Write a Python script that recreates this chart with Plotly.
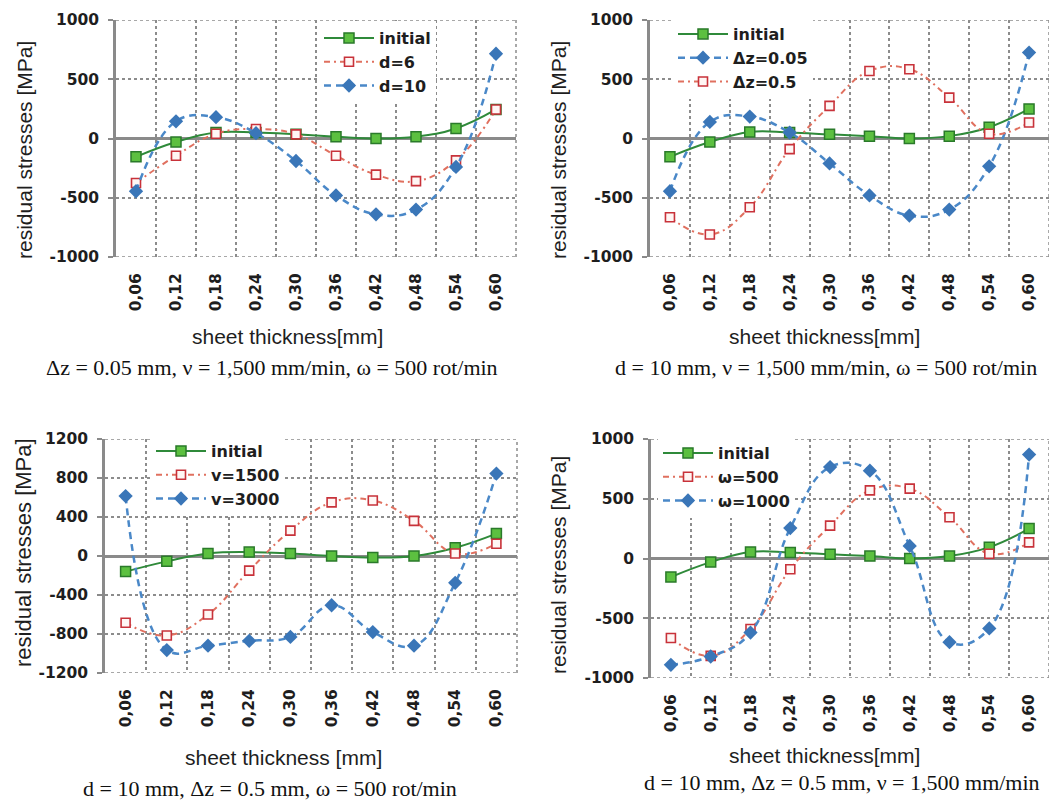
import plotly.graph_objects as go

# ---------------- data ----------------
categories = ["0,06", "0,12", "0,18", "0,24", "0,30", "0,36", "0,42", "0,48", "0,54", "0,60"]

# panel 1: dz = 0.05 mm, v = 1500, w = 500
p1_initial = [-155, -30, 50, 50, 35, 15, 0, 15, 85, 245]
p1_d6 = [-375, -145, 40, 80, 35, -145, -305, -360, -185, 245]
p1_d10 = [-445, 145, 180, 45, -190, -480, -640, -600, -240, 715]

# panel 2: d = 10 mm, v = 1500, w = 500
p2_initial = [-155, -30, 55, 50, 35, 20, 0, 20, 95, 250]
p2_dz005 = [-445, 140, 185, 50, -210, -480, -650, -600, -235, 725]
p2_dz05 = [-665, -810, -580, -90, 275, 570, 585, 345, 40, 135]

# panel 3: d = 10 mm, dz = 0.5 mm, w = 500
p3_initial = [-160, -55, 25, 40, 25, 0, -15, 0, 85, 230]
p3_v1500 = [-685, -815, -600, -150, 260, 550, 570, 360, 25, 125]
p3_v3000 = [615, -965, -920, -870, -830, -505, -780, -920, -275, 845]

# panel 4: d = 10 mm, dz = 0.5 mm, v = 1500
p4_initial = [-155, -30, 55, 50, 35, 20, 0, 20, 95, 250]
p4_w500 = [-665, -815, -590, -90, 275, 570, 585, 345, 40, 135]
p4_w1000 = [-890, -820, -620, 255, 765, 735, 105, -700, -585, 870]

yticks_a = [-1000, -500, 0, 500, 1000]
yticklabels_a = ["-1000", "-500", "0", "500", "1000"]
yticks_b = [-1200, -800, -400, 0, 400, 800, 1200]
yticklabels_b = ["-1200", "-800", "-400", "0", "400", "800", "1200"]
yrange_a = [-1000, 1000]
yrange_b = [-1200, 1200]

y_title = "residual stresses [MPa]"
x_title = "sheet thickness[mm]"
x_title_3 = "sheet thickness [mm]"
captions = [
    "Δz = 0.05 mm, ν = 1,500 mm/min, ω = 500 rot/min",
    "d = 10 mm, ν = 1,500 mm/min, ω = 500 rot/min",
    "d = 10 mm, Δz = 0.5 mm, ω = 500 rot/min",
    "d = 10 mm, Δz = 0.5 mm, ν = 1,500 mm/min",
]

# ---------------- styles ----------------
W, H = 1049, 801
GREEN_LINE = "#2f8a3a"
GREEN_FILL = "#5cc040"
GREEN_EDGE = "#2a7a2a"
RED_LINE = "#e0705f"
RED_EDGE = "#c8323a"
BLUE_LINE = "#4a88c8"
BLUE_FILL = "#3a76b8"
GRID = "#8c8c8c"
AXIS = "#8a8a8a"
TXT = "#1e1e1e"
SMOOTH = 1.2


def px(x):
    return x / W


def py(y):
    return 1 - y / H


def initial_trace(y, ax, leg):
    return go.Scatter(
        x=categories, y=y, name="initial", mode="lines+markers",
        xaxis="x" + ax, yaxis="y" + ax, legend=leg,
        line=dict(color=GREEN_LINE, width=2, shape="spline", smoothing=SMOOTH),
        marker=dict(symbol="square", size=10, color=GREEN_FILL,
                    line=dict(color=GREEN_EDGE, width=1.5)),
    )


def red_trace(y, name, ax, leg):
    return go.Scatter(
        x=categories, y=y, name=name, mode="lines+markers",
        xaxis="x" + ax, yaxis="y" + ax, legend=leg,
        line=dict(color=RED_LINE, width=2, shape="spline", smoothing=SMOOTH,
                  dash="6px,4px,2px,4px"),
        marker=dict(symbol="square", size=9, color="#fff6f4",
                    line=dict(color=RED_EDGE, width=1.6)),
    )


def blue_trace(y, name, ax, leg):
    return go.Scatter(
        x=categories, y=y, name=name, mode="lines+markers",
        xaxis="x" + ax, yaxis="y" + ax, legend=leg,
        line=dict(color=BLUE_LINE, width=2.5, shape="spline", smoothing=SMOOTH,
                  dash="7px,5px"),
        marker=dict(symbol="diamond", size=11, color=BLUE_FILL,
                    line=dict(width=0)),
    )


fig = go.Figure()
# panel 1
fig.add_trace(initial_trace(p1_initial, "", "legend"))
fig.add_trace(red_trace(p1_d6, "d=6", "", "legend"))
fig.add_trace(blue_trace(p1_d10, "d=10", "", "legend"))
# panel 2
fig.add_trace(initial_trace(p2_initial, "2", "legend2"))
fig.add_trace(blue_trace(p2_dz005, "Δz=0.05", "2", "legend2"))
fig.add_trace(red_trace(p2_dz05, "Δz=0.5", "2", "legend2"))
# panel 3
fig.add_trace(initial_trace(p3_initial, "3", "legend3"))
fig.add_trace(red_trace(p3_v1500, "v=1500", "3", "legend3"))
fig.add_trace(blue_trace(p3_v3000, "v=3000", "3", "legend3"))
# panel 4
fig.add_trace(initial_trace(p4_initial, "4", "legend4"))
fig.add_trace(red_trace(p4_w500, "ω=500", "4", "legend4"))
fig.add_trace(blue_trace(p4_w1000, "ω=1000", "4", "legend4"))

tick_font = dict(family="DejaVu Sans", size=15.5, color=TXT, weight="bold")


def xaxis(domain, anchor):
    return dict(
        domain=domain, anchor=anchor, type="category", automargin=False,
        tickson="boundaries", ticks="", showgrid=True, griddash="dot",
        gridcolor=GRID, gridwidth=1.5, showline=False, zeroline=False,
        tickangle=-90, tickfont=tick_font, ticklabelstandoff=12,
        range=[-0.5, 9.5], fixedrange=True,
    )


def yaxis(domain, anchor, rng, tv, tt):
    return dict(
        domain=domain, anchor=anchor, range=rng, tickvals=tv, ticktext=tt,
        automargin=False,
        showgrid=True, griddash="dot", gridcolor=GRID, gridwidth=1.5,
        showline=True, linecolor=AXIS, linewidth=2.5, ticks="outside",
        ticklen=5, tickwidth=2, tickcolor=AXIS,
        zeroline=True, zerolinecolor=AXIS, zerolinewidth=2.5,
        tickfont=tick_font, ticklabelstandoff=6, fixedrange=True,
    )


P = {
    1: dict(l=116, r=516, t=20, b=257),
    2: dict(l=650, r=1049, t=20, b=257),
    3: dict(l=105, r=517, t=439, b=673),
    4: dict(l=651, r=1049, t=439, b=678),
}


def dx(p):
    return [px(P[p]["l"]), min(1.0, px(P[p]["r"]))]


def dy(p):
    return [py(P[p]["b"]), py(P[p]["t"])]


legend_font = dict(family="DejaVu Sans", size=16, color=TXT, weight="bold")


def legend(x, y):
    return dict(
        x=px(x), y=py(y), xanchor="left", yanchor="top", bgcolor="white",
        borderwidth=0, font=legend_font, itemwidth=50, tracegroupgap=0,
        itemclick=False, itemdoubleclick=False,
    )


# dotted frame lines at the plot-area edges (like the Excel gridlines)
shapes = []
edge_line = dict(color=GRID, width=1.5, dash="dot")
for ax, rng in [("", yrange_a), ("2", yrange_a), ("3", yrange_b), ("4", yrange_a)]:
    for yv in rng:
        shapes.append(dict(type="line", xref="x" + ax + " domain", yref="y" + ax,
                           x0=0, x1=1, y0=yv, y1=yv, line=edge_line, layer="below"))
    shapes.append(dict(type="line", xref="x" + ax + " domain", yref="y" + ax + " domain",
                       x0=1, x1=1, y0=0, y1=1, line=edge_line, layer="below"))

annotations = []
title_font = dict(family="Liberation Sans", size=21, color=TXT)
cap_font = dict(family="Liberation Serif", size=22, color="#111111")
ytitle_pos = [(24, 150), (558, 150), (23, 553), (558, 565)]
xtitle_pos = [(287, 337), (824, 337), (283, 757), (824, 755)]
cap_pos = [(272, 367), (826, 367), (270, 788), (842, 782)]
for i in range(4):
    annotations.append(dict(text=y_title, x=px(ytitle_pos[i][0]), y=py(ytitle_pos[i][1]),
                            xref="paper", yref="paper", showarrow=False, textangle=-90,
                            xanchor="center", yanchor="middle",
                            font=dict(title_font, size=22 if i == 2 else 21)))
    annotations.append(dict(text=x_title_3 if i == 2 else x_title,
                            x=px(xtitle_pos[i][0]), y=py(xtitle_pos[i][1]),
                            xref="paper", yref="paper", showarrow=False,
                            xanchor="center", yanchor="middle", font=title_font))
    annotations.append(dict(text=captions[i], x=px(cap_pos[i][0]), y=py(cap_pos[i][1]),
                            xref="paper", yref="paper", showarrow=False,
                            xanchor="center", yanchor="middle", font=cap_font))

fig.update_layout(
    width=W, height=H, margin=dict(l=0, r=0, t=0, b=0, autoexpand=False),
    paper_bgcolor="white", plot_bgcolor="white",
    xaxis=xaxis(dx(1), "y"), yaxis=yaxis(dy(1), "x", yrange_a, yticks_a, yticklabels_a),
    xaxis2=xaxis(dx(2), "y2"), yaxis2=yaxis(dy(2), "x2", yrange_a, yticks_a, yticklabels_a),
    xaxis3=xaxis(dx(3), "y3"), yaxis3=yaxis(dy(3), "x3", yrange_b, yticks_b, yticklabels_b),
    xaxis4=xaxis(dx(4), "y4"), yaxis4=yaxis(dy(4), "x4", yrange_a, yticks_a, yticklabels_a),
    legend=legend(319, 21), legend2=legend(673, 17),
    legend3=legend(151, 434), legend4=legend(658, 436),
    shapes=shapes, annotations=annotations, showlegend=True,
)

fig.write_html(
    "out.html",
    config={"displayModeBar": False},
    post_script="document.body.style.margin='0';document.body.style.overflow='hidden';",
)
